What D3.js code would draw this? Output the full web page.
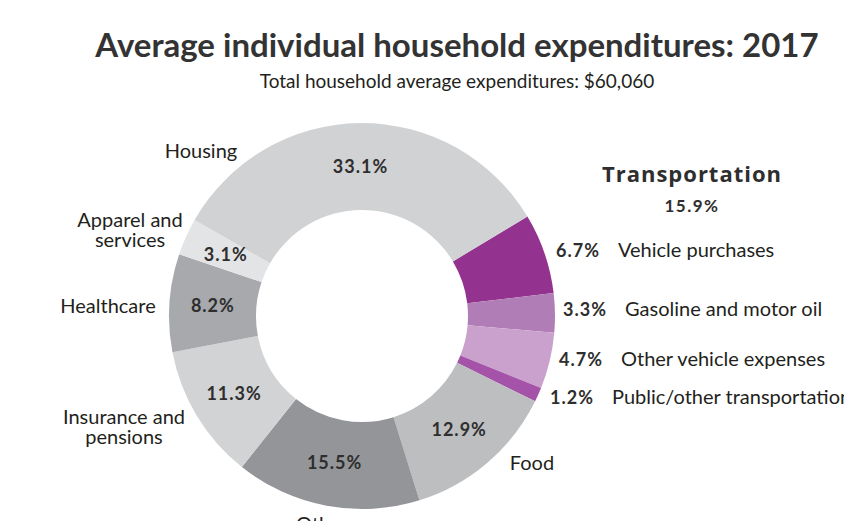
<!DOCTYPE html>
<html>
<head>
<meta charset="utf-8">
<script src="https://cdn.jsdelivr.net/npm/d3@7"></script>
<style>
  body { margin: 0; background: #fff; }
  svg { display: block; }
  text { font-family: Lato, "Open Sans", sans-serif; fill: #231f20; }
</style>
</head>
<body>
<div id="chart"></div>
<script>
const width = 844;
const height = 521;

// slices, clockwise starting at the transportation block
const categories = ["Vehicle purchases", "Gasoline and motor oil", "Other vehicle expenses",
    "Public/other transportation", "Food", "Other", "Insurance and pensions",
    "Healthcare", "Apparel and services", "Housing"];
const shares = [6.7, 3.3, 4.7, 1.2, 12.9, 15.5, 11.3, 8.2, 3.1, 33.1];
const colors = ["#93338f", "#b07db6", "#c9a1cc", "#a453a9", "#bcbec0", "#939598",
    "#d1d3d4", "#a7a9ac", "#e3e4e5", "#d0d2d4"];

const title = "Average individual household expenditures: 2017";
const subtitle = "Total household average expenditures: $60,060";
const groupName = "Transportation";
const groupShare = 15.9;

// outer labels for the grey slices (lines of text, position)
const sideLabels = [
    { name: "Housing", lines: ["Housing"], x: 201, y: 158 },
    { name: "Apparel and services", lines: ["Apparel and", "services"], x: 130, y: 227 },
    { name: "Healthcare", lines: ["Healthcare"], x: 108, y: 313 },
    { name: "Insurance and pensions", lines: ["Insurance and", "pensions"], x: 124, y: 424 },
    { name: "Food", lines: ["Food"], x: 532, y: 470 },
    { name: "Other", lines: ["Other"], x: 322, y: 531 }
];

// legend rows for the transportation block
const legendRows = [
    { x: 556, y: 257 },
    { x: 563, y: 316 },
    { x: 559, y: 366 },
    { x: 550, y: 404 }
];

const cx = 362, cy = 316;
const outerR = 193, innerR = 106;
const start = 59 * Math.PI / 180;

const svg = d3.select("#chart")
    .append("svg")
    .attr("width", width)
    .attr("height", height);

svg.append("text")
    .attr("x", 457)
    .attr("y", 57)
    .attr("text-anchor", "middle")
    .attr("font-size", 33)
    .attr("font-weight", 700)
    .style("fill", "#333")
    .text(title);

svg.append("text")
    .attr("x", 457)
    .attr("y", 88)
    .attr("text-anchor", "middle")
    .attr("font-size", 19)
    .text(subtitle);

const data = categories.map((c, i) => ({ name: c, value: shares[i], color: colors[i] }));

const pie = d3.pie()
    .sort(null)
    .value(d => d.value)
    .startAngle(start)
    .endAngle(start + 2 * Math.PI);

const arc = d3.arc()
    .innerRadius(innerR)
    .outerRadius(outerR);

const arcs = pie(data);

const g = svg.append("g")
    .attr("transform", `translate(${cx},${cy})`);

g.selectAll("path")
    .data(arcs)
    .enter()
    .append("path")
    .attr("d", arc)
    .attr("fill", d => d.data.color);

// percent labels inside the grey slices
g.selectAll("text.pct")
    .data(arcs.filter((d, i) => i >= 4))
    .enter()
    .append("text")
    .attr("class", "pct")
    .attr("x", d => arc.centroid(d)[0])
    .attr("y", d => arc.centroid(d)[1])
    .attr("dy", "0.35em")
    .attr("text-anchor", "middle")
    .attr("font-size", 18)
    .attr("font-weight", 700)
    .attr("letter-spacing", 1)
    .style("fill", "#2e2e2e")
    .text(d => d.data.value.toFixed(1) + "%");

// category labels outside
const lab = svg.selectAll("text.side")
    .data(sideLabels)
    .enter()
    .append("text")
    .attr("class", "side")
    .attr("text-anchor", "middle")
    .attr("font-size", 20)
    .attr("y", d => d.y);

lab.selectAll("tspan")
    .data(d => d.lines.map(l => ({ l, x: d.x })))
    .enter()
    .append("tspan")
    .attr("x", d => d.x)
    .attr("dy", (d, i) => i === 0 ? 0 : 20)
    .text(d => d.l);

// transportation legend
svg.append("text")
    .attr("x", 692)
    .attr("y", 182)
    .attr("text-anchor", "middle")
    .style("font-family", "'Open Sans', Lato, sans-serif")
    .attr("font-size", 22)
    .attr("font-weight", 700)
    .attr("letter-spacing", 1)
    .style("fill", "#2e2e2e")
    .text(groupName);

svg.append("text")
    .attr("x", 692)
    .attr("y", 212)
    .attr("text-anchor", "middle")
    .attr("font-size", 17)
    .attr("font-weight", 700)
    .attr("letter-spacing", 1.5)
    .style("fill", "#2e2e2e")
    .text(groupShare.toFixed(1) + "%");

const rows = svg.selectAll("g.row")
    .data(arcs.slice(0, 4))
    .enter()
    .append("g")
    .attr("class", "row")
    .attr("transform", (d, i) => `translate(${legendRows[i].x},${legendRows[i].y})`);

rows.append("text")
    .attr("font-size", 18)
    .attr("font-weight", 700)
    .attr("letter-spacing", 1)
    .style("fill", "#2e2e2e")
    .text(d => d.data.value.toFixed(1) + "%");

rows.append("text")
    .attr("x", 62)
    .attr("font-size", 20)
    .text(d => d.data.name);
</script>
</body>
</html>
